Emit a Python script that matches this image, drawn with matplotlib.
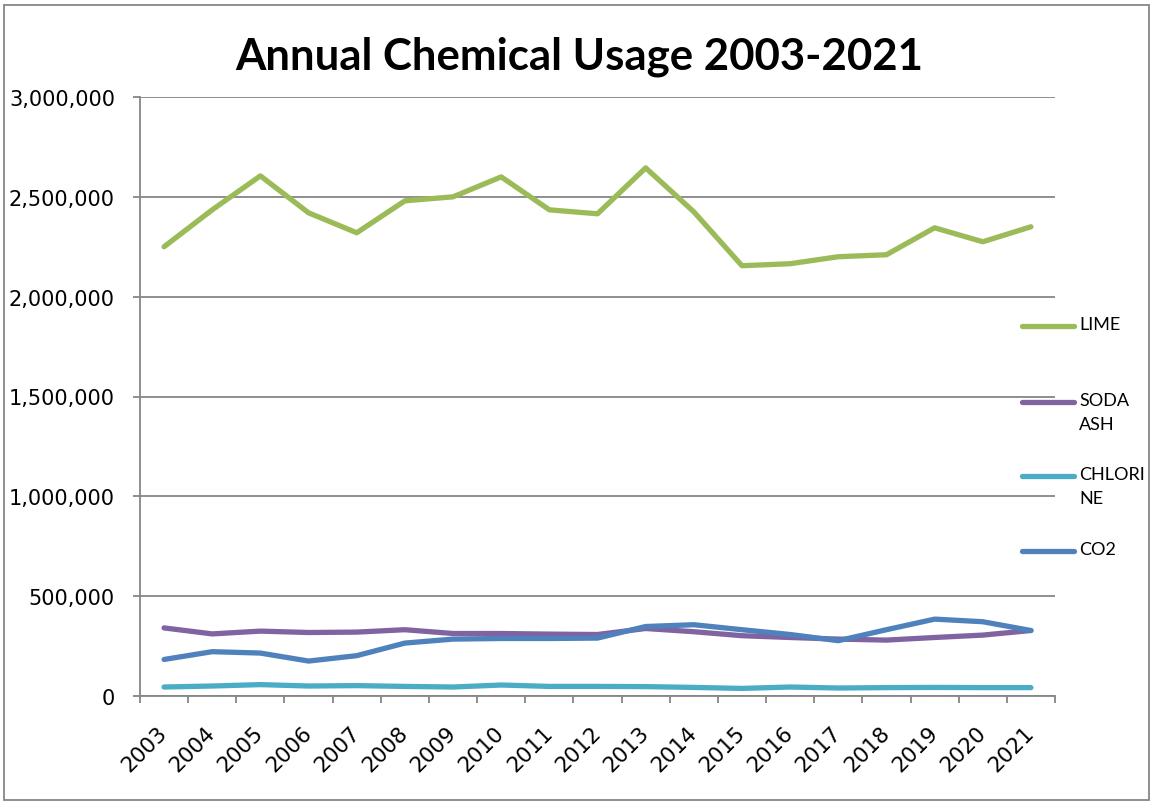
import matplotlib
matplotlib.use("Agg")
import matplotlib.pyplot as plt
import matplotlib.transforms as mtransforms
from matplotlib.lines import Line2D
from matplotlib.patches import Rectangle
from matplotlib.ticker import FuncFormatter, MultipleLocator, FixedLocator

years = [str(y) for y in range(2003, 2022)]
lime = [2250000, 2435000, 2605000, 2420000, 2320000, 2480000, 2500000, 2600000,
        2435000, 2415000, 2645000, 2425000, 2155000, 2165000, 2200000, 2210000,
        2345000, 2275000, 2350000]
soda_ash = [341000, 311000, 325000, 318000, 320000, 332000, 313000, 313000,
            310000, 308000, 338000, 322000, 302000, 293000, 285000, 280000,
            293000, 305000, 328000]
chlorine = [45000, 50000, 57000, 50000, 52000, 48000, 45000, 55000,
            48000, 48000, 47000, 43000, 38000, 45000, 40000, 42000,
            43000, 42000, 42000]
co2 = [183000, 222000, 215000, 175000, 202000, 265000, 285000, 288000,
       288000, 290000, 348000, 357000, 332000, 308000, 277000, 332000,
       385000, 372000, 328000]

series_names = ["LIME", "SODA\nASH", "CHLORI\nNE", "CO2"]
series_values = [lime, soda_ash, chlorine, co2]
colors = ["#9BBB59", "#8064A2", "#4BACC6", "#4F81BD"]

W, H = 1151, 803
fig = plt.figure(figsize=(W / 100, H / 100), dpi=100)

# outer chart border
fig.add_artist(Rectangle((4 / W, 1 - 801 / H), (1149 - 4) / W, (801 - 6) / H,
                         transform=fig.transFigure, fill=False,
                         edgecolor="#868686", linewidth=1.3))

ax = fig.add_axes([140 / W, 1 - 697 / H, (1055 - 140) / W, (697 - 98) / H])

x = list(range(len(years)))
for name, vals, c in zip(series_names, series_values, colors):
    ax.plot(x, vals, color=c, linewidth=3.8, solid_capstyle="round",
            solid_joinstyle="round", zorder=3)

ax.set_xlim(-0.5, len(years) - 0.5)
ax.set_ylim(0, 3000000)
ax.yaxis.set_major_locator(MultipleLocator(500000))
ax.yaxis.set_major_formatter(FuncFormatter(lambda v, p: f"{int(v):,}"))
ax.grid(axis="y", color="#868686", linewidth=1.3, zorder=0)

for s in ["top", "right"]:
    ax.spines[s].set_visible(False)
for s in ["left", "bottom"]:
    ax.spines[s].set_color("#868686")
    ax.spines[s].set_linewidth(1.3)

ax.set_xticks(x)
ax.set_xticklabels(years, rotation=45, ha="right", fontsize=15.5,
                   family="DejaVu Sans")
ax.xaxis.set_minor_locator(FixedLocator([i - 0.5 for i in range(len(years) + 1)]))
ax.tick_params(axis="x", which="major", length=0, pad=19)
ax.tick_params(axis="x", which="minor", length=5, width=1.3, color="#868686")
ax.tick_params(axis="y", length=5, width=1.3, color="#868686", pad=13,
               labelsize=15)
offset = mtransforms.ScaledTranslation(7 / 100, 0, fig.dpi_scale_trans)
for lab in ax.get_xticklabels():
    lab.set_transform(lab.get_transform() + offset)

fig.text(579 / W, 1 - 57 / H, "Annual Chemical Usage 2003-2021",
         ha="center", va="center", fontsize=31.5, fontweight="bold",
         family="Lato")

# legend (manual)
leg_y = [327, 403, 477, 552]
for name, c, yy in zip(series_names, colors, leg_y):
    fy = 1 - yy / H
    fig.add_artist(Line2D([1022 / W, 1074 / W], [fy, fy], color=c,
                          linewidth=3.8, solid_capstyle="round",
                          transform=fig.transFigure))
    fig.text(1079 / W, 1 - (yy - 10) / H, name, ha="left", va="top",
             fontsize=13, family="Lato", linespacing=1.6)

fig.savefig("out.png", dpi=100)
